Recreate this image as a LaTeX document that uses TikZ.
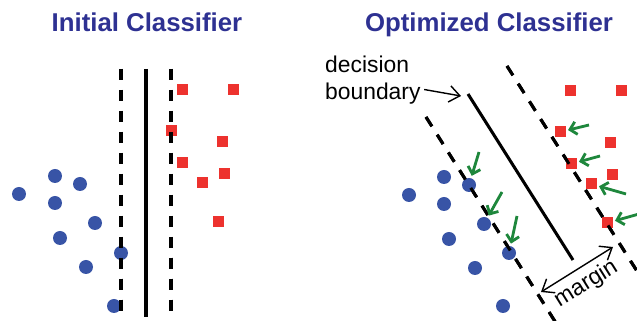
\documentclass[tikz,border=0pt]{standalone}
\usepackage{fontspec}
\setmainfont{Liberation Sans}
\usetikzlibrary{arrows.meta}
\definecolor{tblue}{RGB}{46,49,146}
\definecolor{dblue}{RGB}{56,84,166}
\definecolor{sred}{RGB}{237,50,46}
\definecolor{agreen}{RGB}{30,135,60}
\tikzset{
    heading/.style = {font=\fontsize{22}{26}\selectfont\bfseries,
                    text=tblue,
                    anchor=base,
                    inner sep=0pt},
    note/.style =   {font=\fontsize{19.5}{23}\selectfont,
                    anchor=base west,
                    inner sep=0pt},
    bluept/.style = {circle,
                    fill=dblue,
                    inner sep=0pt,
                    minimum size=0.42cm},
    redpt/.style =  {rectangle,
                    fill=sred,
                    inner sep=0pt,
                    minimum size=0.33cm},
    bound/.style =  {line width=2.6pt},
    mline/.style =  {line width=2.6pt,
                    dash pattern=on 9.4pt off 8.5pt},
    pointer/.style = {line width=1.2pt,
                    -{Straight Barb[length=9pt,width=14pt]}},
    twoway/.style = {line width=1.2pt,
                    {Straight Barb[length=9pt,width=14pt]}-{Straight Barb[length=9pt,width=14pt]}},
    push/.style =   {line width=2.4pt,
                    draw=agreen,
                    -{Straight Barb[length=5.5pt,width=11pt]},
                    shorten >=2pt}}

\begin{document}
\begin{tikzpicture}[x=0.03cm,y=-0.03cm]
            \useasboundingbox (0,0) rectangle (637,321);
            \clip (0,0) rectangle (637,321);

            \node[heading]  (t1) at (147,32)            {Initial Classifier};
            \node[heading]  (t2) at (489,32)            {Optimized Classifier};

            \coordinate (la1) at (121,69);
            \coordinate (la2) at (121,312);
            \coordinate (lb1) at (146,69);
            \coordinate (lb2) at (146,317);
            \coordinate (lc1) at (171,69);
            \coordinate (lc2) at (171,312);

            \draw[mline]  (la1) -- (la2);
            \draw[bound]  (lb1) -- (lb2);
            \draw[mline]  (lc1) -- (lc2);

            \node[redpt]    (s1) at (182,90)            {};
            \node[redpt]    (s2) at (233,90)            {};
            \node[redpt]    (s3) at (171,131)           {};
            \node[redpt]    (s4) at (222,142)           {};
            \node[redpt]    (s5) at (182,163)           {};
            \node[redpt]    (s6) at (224,174)           {};
            \node[redpt]    (s7) at (202,183)           {};
            \node[redpt]    (s8) at (218,222)           {};

            \node[bluept]   (c1) at (55,176)            {};
            \node[bluept]   (c2) at (80,184)            {};
            \node[bluept]   (c3) at (19,194)            {};
            \node[bluept]   (c4) at (55,203)            {};
            \node[bluept]   (c5) at (95,223)            {};
            \node[bluept]   (c6) at (60,238)            {};
            \node[bluept]   (c7) at (121,253)           {};
            \node[bluept]   (c8) at (86,267)            {};
            \node[bluept]   (c9) at (114,306)           {};

            \draw[mline]  (la1) -- (la2);
            \draw[mline]  (lc1) -- (lc2);

            \coordinate (ra1) at (426,117);
            \coordinate (ra2) at (556,323);
            \coordinate (rb1) at (507,66);
            \coordinate (rb2) at (642,279);
            \coordinate (rc1) at (468,94);
            \coordinate (rc2) at (573,260);

            \draw[mline]  (ra1) -- (ra2);
            \draw[bound]  (rc1) -- (rc2);
            \draw[mline]  (rb1) -- (rb2);

            \node[redpt]    (os1) at (570,91)           {};
            \node[redpt]    (os2) at (621,91)           {};
            \node[redpt]    (os3) at (560,132)          {};
            \node[redpt]    (os4) at (610,143)          {};
            \node[redpt]    (os5) at (571,164)          {};
            \node[redpt]    (os6) at (612,175)          {};
            \node[redpt]    (os7) at (591,184)          {};
            \node[redpt]    (os8) at (607,223)          {};

            \node[bluept]   (oc1) at (444,177)          {};
            \node[bluept]   (oc2) at (469,185)          {};
            \node[bluept]   (oc3) at (409,195)          {};
            \node[bluept]   (oc4) at (444,204)          {};
            \node[bluept]   (oc5) at (484,224)          {};
            \node[bluept]   (oc6) at (449,239)          {};
            \node[bluept]   (oc7) at (509,253)          {};
            \node[bluept]   (oc8) at (475,268)          {};
            \node[bluept]   (oc9) at (503,306)          {};

            \draw[mline]  (ra1) -- (ra2);
            \draw[mline]  (rb1) -- (rb2);

            \coordinate (g1) at (479,152);
            \coordinate (g2) at (502,192);
            \coordinate (g3) at (517,216);
            \coordinate (g4) at (589,125);
            \coordinate (g5) at (600,156);
            \coordinate (g6) at (626,194);
            \coordinate (g7) at (639,214);

            \draw[push]  (g1) -- (oc2);
            \draw[push]  (g2) -- (oc5);
            \draw[push]  (g3) -- (oc7);
            \draw[push]  (g4) -- (os3);
            \draw[push]  (g5) -- (os5);
            \draw[push]  (g6) -- (os7);
            \draw[push]  (g7) -- (os8);

            \node[note]     (dec) at (325,73)           {decision};
            \node[note]     (bnd) at (325,99.5)         {boundary};
            \coordinate (dbt) at (461,96);
            \draw[pointer, shorten <=3pt]  ([yshift=4pt]bnd.east) -- (dbt);

            \coordinate (m1) at (541,292);
            \coordinate (m2) at (613,247);
            \draw[twoway]  (m1) -- (m2) node[midway, sloped, below=5pt, font=\fontsize{19.5}{23}\selectfont, inner sep=0pt] (mtxt) {margin};
        \end{tikzpicture}
\end{document}
